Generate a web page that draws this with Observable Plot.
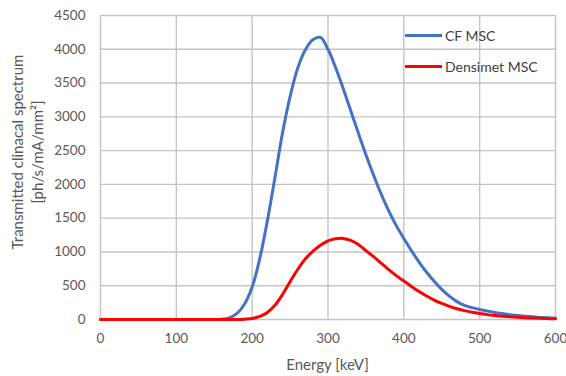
<!DOCTYPE html>
<html>
<head>
<meta charset="utf-8">
<script src="https://cdn.jsdelivr.net/npm/d3@7"></script>
<script src="https://cdn.jsdelivr.net/npm/@observablehq/plot@0.6"></script>
<style>
  html, body { margin: 0; padding: 0; background: white; }
  #wrap { position: relative; width: 566px; height: 376px; }
  .leg { position: absolute; font-family: Lato, sans-serif; font-size: 14px; color: #404040; display: flex; align-items: center; }
  .leg span.sw { display: inline-block; width: 37px; height: 3px; margin-right: 3px; }
</style>
</head>
<body>
<div id="wrap"></div>
<script>
const energy = [0,10,20,30,40,50,60,70,80,90,100,110,120,130,140,150,160,170,180,190,200,210,220,230,240,250,260,270,280,290,300,310,320,330,340,350,360,370,380,390,400,410,420,430,440,450,460,470,480,490,500,510,520,530,540,550,560,570,580,590,600];
const cfMSC = [0,0,0,0,0,0,0,0,0,0,0,0,0,0,0,0,5,25,90,230,480,900,1460,2100,2760,3300,3720,3990,4140,4175,4000,3730,3420,3090,2760,2440,2140,1860,1610,1390,1200,1020,850,700,565,445,345,265,210,175,148,125,105,88,72,59,48,39,31,25,20];
const densimetMSC = [0,0,0,0,0,0,0,0,0,0,0,0,0,0,0,0,0,0,0,5,15,45,105,210,370,560,740,895,1010,1100,1165,1195,1200,1172,1110,1020,930,835,738,650,570,490,415,348,288,238,195,160,131,107,88,72,59,48,39,32,26,21,17,14,11];
const seriesNames = ["CF MSC", "Densimet MSC"];
const seriesColors = ["#4472C4", "#FF0000"];
const xTicks = [0,100,200,300,400,500,600];
const yTicks = [0,500,1000,1500,2000,2500,3000,3500,4000,4500];
const xTitle = "Energy [keV]";
const yTitle = ["Transmitted clinacal spectrum", "[ph/s/mA/mm²]"];

const data = [];
energy.forEach((e, i) => data.push({E: e, v: cfMSC[i], s: seriesNames[0]}));
energy.forEach((e, i) => data.push({E: e, v: densimetMSC[i], s: seriesNames[1]}));

const gridStyle = {stroke: "#c4c4c4", strokeOpacity: 1, strokeWidth: 1.4};
const chart = Plot.plot({
  width: 566, height: 376,
  marginLeft: 100, marginRight: 11, marginTop: 15, marginBottom: 57,
  x: {domain: [0, 600], ticks: xTicks, label: null},
  y: {domain: [0, 4500], ticks: yTicks, label: null},
  color: {domain: seriesNames, range: seriesColors},
  style: {fontFamily: "Lato, sans-serif", fontSize: "13.5px", color: "#595959", background: "white", overflow: "visible"},
  marks: [
    Plot.gridX(xTicks, gridStyle),
    Plot.gridY(yTicks, gridStyle),
    Plot.axisX(xTicks, {tickSize: 0, tickPadding: 14, fill: "#595959", label: null, tickFormat: d => String(d)}),
    Plot.axisY(yTicks, {tickSize: 0, tickPadding: 15, fill: "#595959", label: null, tickFormat: d => String(d)}),
    Plot.line(data, {x: "E", y: "v", stroke: "s", z: "s", strokeWidth: 3, curve: "catmull-rom"})
  ]
});
const wrap = document.getElementById("wrap");
wrap.appendChild(chart);

const svg = d3.select(chart);
svg.append("text")
  .attr("x", (100 + 555) / 2).attr("y", 370)
  .attr("text-anchor", "middle")
  .attr("fill", "#595959")
  .style("font-size", "15px")
  .text(xTitle);
const yt = svg.append("text")
  .attr("transform", "translate(0,152) rotate(-90)")
  .attr("text-anchor", "middle")
  .attr("fill", "#595959")
  .style("font-size", "15px");
yt.append("tspan").attr("x", 0).attr("y", 23).text(yTitle[0]);
yt.append("tspan").attr("x", 0).attr("y", 43).text(yTitle[1]);

const legPos = [[405, 35], [405, 66]];
seriesNames.forEach((n, i) => {
  const d = document.createElement("div");
  d.className = "leg";
  d.style.left = legPos[i][0] + "px";
  d.style.top = (legPos[i][1] - 10) + "px";
  d.style.height = "20px";
  d.innerHTML = `<span class="sw" style="background:${seriesColors[i]}"></span>${n}`;
  wrap.appendChild(d);
});
</script>
</body>
</html>
